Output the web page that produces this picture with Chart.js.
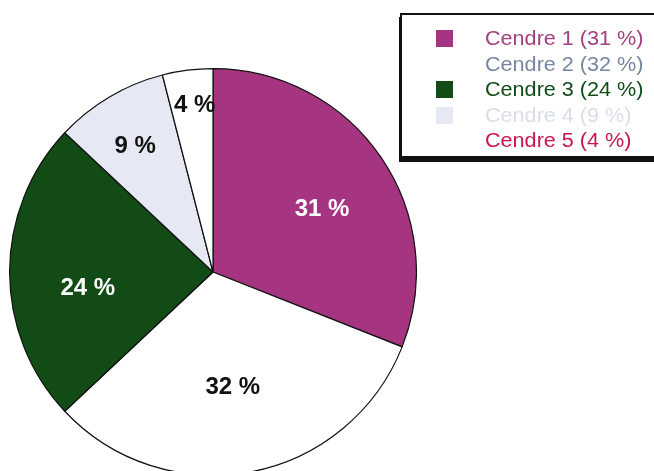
<!DOCTYPE html>
<html>
<head>
<meta charset="utf-8">
<script src="https://cdn.jsdelivr.net/npm/chart.js@4.4.1/dist/chart.umd.min.js"></script>
<style>
  html, body { margin: 0; padding: 0; background: #fff; overflow: hidden; }
  body { width: 654px; height: 471px; position: relative; font-family: Arial, "Liberation Sans", sans-serif; }
  #pie { position: absolute; left: 9px; top: 68px; }
  #legend {
    position: absolute; left: 400px; top: 13px; width: 270px; height: 141px;
    border: 2px solid #111; box-shadow: -1px 4px 0 #111; background: #fff;
  }
  .row { position: absolute; left: 0; height: 25px; line-height: 25px; font-size: 20px; white-space: nowrap; }
  .sw { position: absolute; left: 34px; top: 4px; width: 17px; height: 17px; }
  .txt { position: absolute; left: 83px; transform: scaleX(1.08); transform-origin: left center; }
</style>
</head>
<body>
<canvas id="pie" width="408" height="408"></canvas>
<div id="legend"></div>
<script>
// ash shares, clockwise from the top
const names = ["Cendre 1", "Cendre 2", "Cendre 3", "Cendre 4", "Cendre 5"];
const shares = [31, 32, 24, 9, 4];

const fills = ["#a63581", "#ffffff", "#124b16", "#e6e9f3", "#ffffff"];
const legendInk = ["#a3407e", "#7686a2", "#0f4d16", "#d9dee9", "#c8174c"];
const labelInk = ["#ffffff", "#111111", "#ffffff", "#111111", "#111111"];
// where each slice label sits: fraction of the radius, and a small turn in degrees
const labelReach = [0.62, 0.57, 0.62, 0.73, 0.83];
const labelTurn = [4, 1, -7, -1, 1];

// legend box
const legend = document.getElementById("legend");
names.forEach((n, i) => {
  const row = document.createElement("div");
  row.className = "row";
  row.style.top = (11 + i * 25.5) + "px";
  row.innerHTML = `<span class="sw" style="background:${fills[i]}"></span>` +
    `<span class="txt" style="color:${legendInk[i]}">${n} (${shares[i]} %)</span>`;
  legend.appendChild(row);
});

// percent labels inside the slices
const sliceLabels = {
  id: "sliceLabels",
  afterDatasetsDraw(chart) {
    const ctx = chart.ctx;
    const arcs = chart.getDatasetMeta(0).data;
    ctx.save();
    ctx.font = "bold 24px Arial, 'Liberation Sans', sans-serif";
    ctx.textAlign = "center";
    ctx.textBaseline = "middle";
    arcs.forEach((arc, i) => {
      const mid = (arc.startAngle + arc.endAngle) / 2 + labelTurn[i] * Math.PI / 180;
      const r = arc.outerRadius * labelReach[i];
      ctx.fillStyle = labelInk[i];
      ctx.fillText(shares[i] + " %", arc.x + Math.cos(mid) * r, arc.y + Math.sin(mid) * r + 1);
    });
    ctx.restore();
  }
};

new Chart(document.getElementById("pie"), {
  type: "pie",
  data: {
    labels: names,
    datasets: [{
      data: shares,
      backgroundColor: fills,
      borderColor: "#111",
      borderWidth: 1.2
    }]
  },
  options: {
    responsive: false,
    animation: false,
    plugins: { legend: { display: false }, tooltip: { enabled: false } }
  },
  plugins: [sliceLabels]
});
</script>
</body>
</html>
